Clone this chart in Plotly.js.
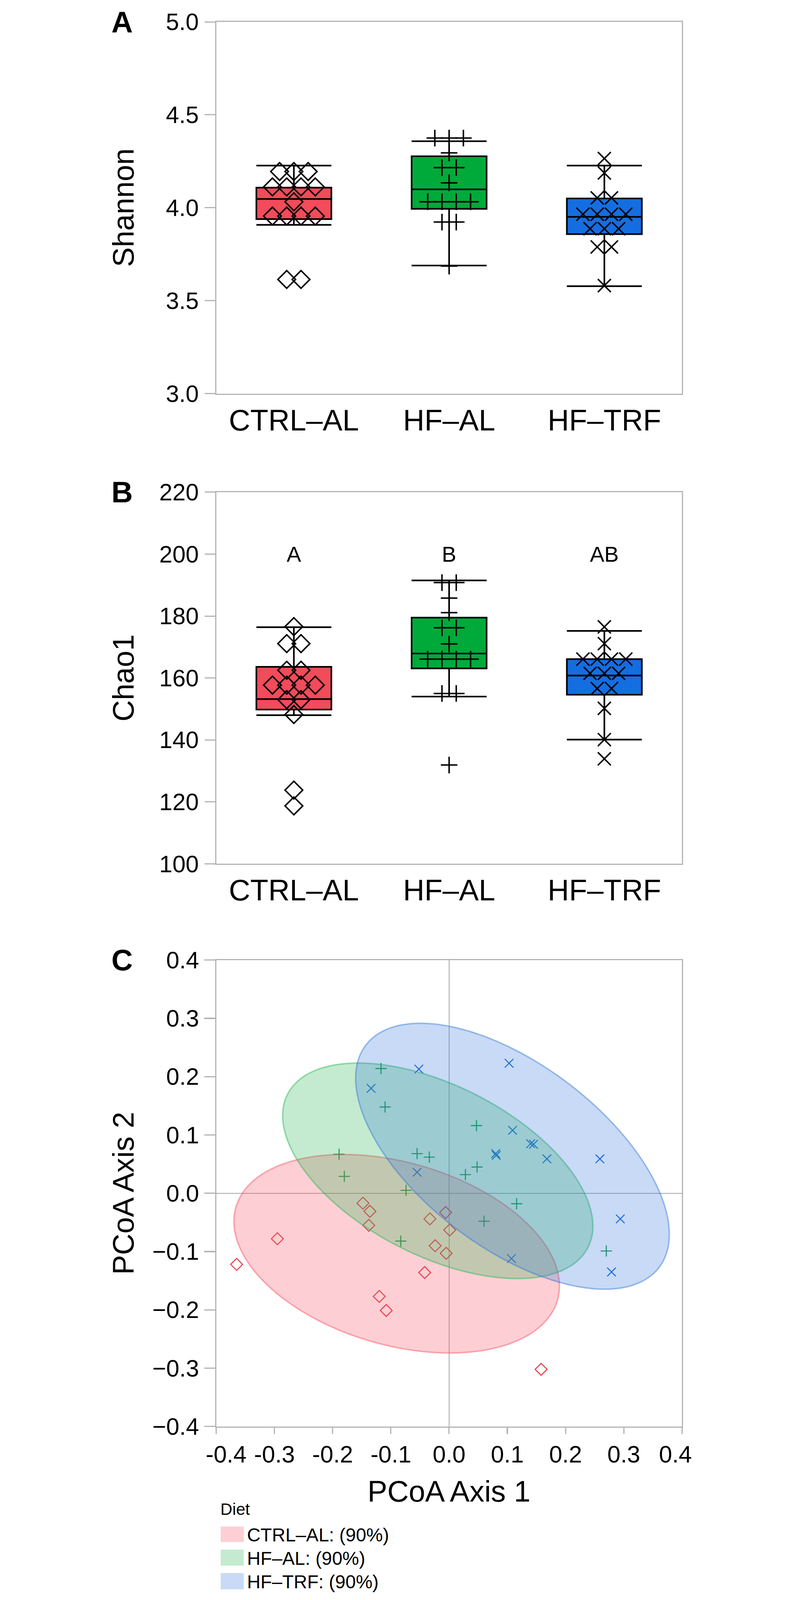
<!DOCTYPE html>
<html>
<head>
<meta charset="utf-8">
<script src="https://cdn.plot.ly/plotly-3.0.1.min.js"></script>
<style>
  html, body { margin: 0; padding: 0; background: #ffffff; overflow: hidden; }
  #chart { width: 2093px; height: 5403px; }
</style>
</head>
<body>
<div id="chart"></div>
<script>
// ---------------- DATA ----------------
const diets = ['CTRL\u2013AL', 'HF\u2013AL', 'HF\u2013TRF'];

// Panel A: Shannon (individual mice)
const shannonCtrl  = [4.195, 4.195, 4.195, 4.112, 4.112, 4.112, 4.112, 4.032, 3.955, 3.955, 3.955, 3.955, 3.614, 3.614];
const shannonHfAl  = [4.375, 4.375, 4.375, 4.295, 4.216, 4.216, 4.134, 4.032, 4.032, 4.032, 4.032, 3.923, 3.923, 3.686];
const shannonHfTrf = [4.265, 4.187, 4.053, 4.053, 3.965, 3.965, 3.965, 3.965, 3.887, 3.887, 3.887, 3.789, 3.789, 3.581];
// Shannon box statistics (CTRL-AL, HF-AL, HF-TRF)
const shannonQ1     = [3.939, 3.994, 3.858];
const shannonMedian = [4.047, 4.099, 3.951];
const shannonQ3     = [4.108, 4.277, 4.050];
const shannonLow    = [3.908, 3.689, 3.578];
const shannonHigh   = [4.227, 4.358, 4.227];
const shannonTicks  = [3.0, 3.5, 4.0, 4.5, 5.0];

// Panel B: Chao1
const chaoCtrl  = [176.6, 171.1, 171.1, 162.5, 162.5, 157.7, 157.7, 157.7, 157.7, 153.0, 153.0, 148.2, 123.8, 118.7];
const chaoHfAl  = [190.8, 190.8, 185.8, 181.1, 176.2, 176.2, 171.0, 166.1, 166.1, 166.1, 166.1, 155.0, 155.0, 131.9];
const chaoHfTrf = [176.5, 171.1, 166.1, 166.1, 166.1, 166.1, 161.5, 161.5, 161.5, 156.6, 156.6, 150.2, 140.1, 133.9];
const chaoQ1     = [149.8, 163.1, 154.6];
const chaoMedian = [153.2, 167.9, 160.8];
const chaoQ3     = [163.6, 179.5, 166.1];
const chaoLow    = [148.0, 154.0, 140.1];
const chaoHigh   = [176.4, 191.5, 175.2];
const chaoTicks  = [100, 120, 140, 160, 180, 200, 220];
const chaoLetters = ['A', 'B', 'AB'];
const chaoLetterLevel = 200;

// Panel C: PCoA
const ctrlPc1  = [-0.365, -0.295, -0.148, -0.136, -0.138, -0.033, -0.006, 0.001, -0.024, -0.005, -0.042, -0.120, -0.108, 0.158];
const ctrlPc2  = [-0.122, -0.078, -0.017, -0.031, -0.055, -0.044, -0.033, -0.063, -0.090, -0.103, -0.136, -0.177, -0.201, -0.302];
const hfAlPc1  = [-0.117, -0.110, -0.189, -0.180, -0.074, -0.055, -0.034, 0.047, 0.048, 0.028, 0.116, 0.060, -0.083, 0.270];
const hfAlPc2  = [0.214, 0.148, 0.067, 0.029, 0.005, 0.068, 0.062, 0.116, 0.045, 0.032, -0.018, -0.048, -0.082, -0.099];
const hfTrfPc1 = [-0.134, -0.052, 0.103, 0.109, 0.140, 0.145, 0.080, 0.081, 0.168, 0.259, -0.055, 0.294, 0.107, 0.279];
const hfTrfPc2 = [0.180, 0.213, 0.223, 0.108, 0.085, 0.084, 0.068, 0.065, 0.059, 0.059, 0.036, -0.044, -0.112, -0.135];
const pcoaTicks = [-0.4, -0.3, -0.2, -0.1, 0.0, 0.1, 0.2, 0.3, 0.4];
const pcoaXTickText = ['-0.4', '-0.3', '-0.2', '-0.1', '0.0', '0.1', '0.2', '0.3', '0.4'];
const ellipseLevel = 0.90;
const legendTitle = 'Diet';

// ---------------- STYLE ----------------
const FONT = 'Liberation Sans, Arial, Helvetica, sans-serif';
const W = 2033, H = 5403;      // frame of the original figure
const WP = 2093;               // drawing canvas (a little spare room on the right)
const px = v => v / WP;
const py = v => 1 - v / H;
const AX = '#b4b4b4';
const boxFill = ['#F24B5A', '#00AA3A', '#146EE1'];
const boxSymbols = ['diamond-open', 'cross-thin-open', 'x-thin-open'];
const boxSymSize = [46, 40, 44];
const pcoaColors = ['#E8404F', '#0A9A4A', '#1A6CD8'];
const pcoaSymSize = [31, 27, 29];
const ellRGB = ['248,77,96', '36,181,81', '51,118,218'];
const ellAlpha = 0.27;
const NB = '\u00a0';
// end labels of the PCoA x axis sit inside the frame, as in the original
const pcoaXLabels = pcoaXTickText.map((t, i) =>
  i === 0 ? NB + NB + NB + t : (i === pcoaXTickText.length - 1 ? t + NB + NB : t));

// horizontal dodge of tied values (side by side, centred on the category)
function dodge(values, center, step) {
  const counts = {}, seen = {};
  values.forEach(v => { counts[v] = (counts[v] || 0) + 1; });
  return values.map(v => {
    const n = counts[v];
    seen[v] = (seen[v] === undefined) ? 0 : seen[v] + 1;
    return center + (seen[v] - (n - 1) / 2) * step;
  });
}

// density ellipse: mean + sqrt(chi2_2(p)) * chol(cov) * unit circle
function ellipse(xs, ys, p) {
  const n = xs.length;
  const mx = xs.reduce((a, b) => a + b, 0) / n;
  const my = ys.reduce((a, b) => a + b, 0) / n;
  let sxx = 0, syy = 0, sxy = 0;
  for (let i = 0; i < n; i++) {
    sxx += (xs[i] - mx) ** 2; syy += (ys[i] - my) ** 2; sxy += (xs[i] - mx) * (ys[i] - my);
  }
  sxx /= (n - 1); syy /= (n - 1); sxy /= (n - 1);
  const k = Math.sqrt(-2 * Math.log(1 - p));
  const a = Math.sqrt(sxx), b = sxy / a, c = Math.sqrt(syy - b * b);
  const ex = [], ey = [];
  for (let i = 0; i <= 240; i++) {
    const t = 2 * Math.PI * i / 240;
    ex.push(mx + k * a * Math.cos(t));
    ey.push(my + k * (b * Math.cos(t) + c * Math.sin(t)));
  }
  return { x: ex, y: ey };
}

const traces = [];

function addBoxPanel(xa, ya, groups, q1, med, q3, lo, hi) {
  for (let g = 0; g < 3; g++) {
    traces.push({
      type: 'box', x: [g], q1: [q1[g]], median: [med[g]], q3: [q3[g]],
      lowerfence: [lo[g]], upperfence: [hi[g]],
      width: 0.483, whiskerwidth: 1, boxpoints: false,
      fillcolor: boxFill[g], line: { color: '#000000', width: 5.5 },
      xaxis: xa, yaxis: ya, showlegend: false, hoverinfo: 'skip'
    });
  }
  for (let g = 0; g < 3; g++) {
    traces.push({
      type: 'scatter', mode: 'markers',
      x: dodge(groups[g], g, 0.092), y: groups[g],
      marker: { symbol: boxSymbols[g], size: boxSymSize[g], color: '#000000',
                line: { color: '#000000', width: 5 } },
      xaxis: xa, yaxis: ya, showlegend: false, cliponaxis: false
    });
  }
}

addBoxPanel('x', 'y', [shannonCtrl, shannonHfAl, shannonHfTrf],
            shannonQ1, shannonMedian, shannonQ3, shannonLow, shannonHigh);
addBoxPanel('x2', 'y2', [chaoCtrl, chaoHfAl, chaoHfTrf],
            chaoQ1, chaoMedian, chaoQ3, chaoLow, chaoHigh);

const pcX = [ctrlPc1, hfAlPc1, hfTrfPc1];
const pcY = [ctrlPc2, hfAlPc2, hfTrfPc2];
for (let g = 0; g < 3; g++) {
  traces.push({
    type: 'scatter', mode: 'markers', x: pcX[g], y: pcY[g], name: diets[g],
    marker: { symbol: boxSymbols[g], size: pcoaSymSize[g], color: pcoaColors[g],
              line: { color: pcoaColors[g], width: 3.5 } },
    xaxis: 'x3', yaxis: 'y3', showlegend: false
  });
}
for (let g = 0; g < 3; g++) {
  const e = ellipse(pcX[g], pcY[g], ellipseLevel);
  traces.push({
    type: 'scatter', mode: 'lines', x: e.x, y: e.y, fill: 'toself',
    fillcolor: 'rgba(' + ellRGB[g] + ',' + ellAlpha + ')',
    line: { color: 'rgba(' + ellRGB[g] + ',0.45)', width: 5, shape: 'spline' },
    xaxis: 'x3', yaxis: 'y3', showlegend: false, hoverinfo: 'skip'
  });
}

const baseAxis = {
  showline: true, mirror: true, linecolor: AX, linewidth: 4,
  showgrid: false, zeroline: false, tickcolor: AX, tickwidth: 4,
  tickfont: { family: FONT, size: 80, color: '#000000' }, fixedrange: true
};
const xDom = [px(406), px(1979)];

const layout = {
  width: WP, height: H, margin: { l: 0, r: 0, t: 0, b: 0 },
  paper_bgcolor: '#ffffff', plot_bgcolor: '#ffffff',
  font: { family: FONT, color: '#000000' },
  showlegend: false,
  xaxis: Object.assign({}, baseAxis, { domain: xDom, anchor: 'y', range: [-0.5, 2.5],
    tickmode: 'array', tickvals: [0, 1, 2], ticktext: diets, ticks: '',
    tickfont: { family: FONT, size: 100, color: '#000000' } }),
  yaxis: Object.assign({}, baseAxis, { domain: [py(1329), py(74)], anchor: 'x', range: [3, 5],
    tickmode: 'array', tickvals: shannonTicks, tickformat: '.1f', ticks: 'outside', ticklen: 35,
    ticklabelstandoff: 4 }),
  xaxis2: Object.assign({}, baseAxis, { domain: xDom, anchor: 'y2', range: [-0.5, 2.5],
    tickmode: 'array', tickvals: [0, 1, 2], ticktext: diets, ticks: '',
    tickfont: { family: FONT, size: 100, color: '#000000' } }),
  yaxis2: Object.assign({}, baseAxis, { domain: [py(2917), py(1662)], anchor: 'x2', range: [100, 220],
    tickmode: 'array', tickvals: chaoTicks, ticks: 'outside', ticklen: 35, ticklabelstandoff: 4 }),
  xaxis3: Object.assign({}, baseAxis, { domain: xDom, anchor: 'y3', range: [-0.4, 0.4],
    tickmode: 'array', tickvals: pcoaTicks, ticktext: pcoaXLabels, ticks: 'outside', ticklen: 22,
    ticklabeloverflow: 'allow',
    zeroline: true, zerolinecolor: '#a6a6a6', zerolinewidth: 2 }),
  yaxis3: Object.assign({}, baseAxis, { domain: [py(4817), py(3242)], anchor: 'x3', range: [-0.4, 0.4],
    tickmode: 'array', tickvals: pcoaTicks, tickformat: '.1f', ticks: 'outside', ticklen: 36,
    ticklabelstandoff: 2, zeroline: true, zerolinecolor: '#a6a6a6', zerolinewidth: 2 }),
  annotations: [],
  shapes: []
};

const ann = layout.annotations;
// panel letters
[['A', 74], ['B', 1662], ['C', 3242]].forEach(([t, y]) => ann.push({
  text: '<b>' + t + '</b>', xref: 'paper', yref: 'paper', x: px(50), y: py(y),
  xanchor: 'left', yanchor: 'middle', showarrow: false, font: { family: FONT, size: 100, color: '#000' }
}));
// y-axis titles
[['Shannon', (74 + 1329) / 2], ['Chao1', (1662 + 2917) / 2], ['PCoA Axis 2', (3242 + 4817) / 2]].forEach(([t, y]) => ann.push({
  text: t, xref: 'paper', yref: 'paper', x: px(91), y: py(y), textangle: -90,
  xanchor: 'center', yanchor: 'middle', showarrow: false, font: { family: FONT, size: 100, color: '#000' }
}));
// x-axis title of C
ann.push({ text: 'PCoA Axis 1', xref: 'paper', yref: 'paper', x: px(1192), y: py(5036),
  xanchor: 'center', yanchor: 'middle', showarrow: false, font: { family: FONT, size: 100, color: '#000' } });
// significance letters
chaoLetters.forEach((t, i) => ann.push({ text: t, xref: 'x2', yref: 'y2', x: i, y: chaoLetterLevel,
  xanchor: 'center', yanchor: 'middle', showarrow: false, font: { family: FONT, size: 73, color: '#000' } }));
// legend
ann.push({ text: legendTitle, xref: 'paper', yref: 'paper', x: px(418), y: py(5095),
  xanchor: 'left', yanchor: 'middle', showarrow: false, font: { family: FONT, size: 56, color: '#000' } });
const legRows = [[5155, 5207], [5233, 5287], [5312, 5367]];
diets.forEach((d, i) => {
  layout.shapes.push({ type: 'rect', xref: 'paper', yref: 'paper', x0: px(421), x1: px(499),
    y0: py(legRows[i][1]), y1: py(legRows[i][0]), line: { width: 0 },
    fillcolor: 'rgba(' + ellRGB[i] + ',' + ellAlpha + ')' });
  ann.push({ text: d + ': (90%)', xref: 'paper', yref: 'paper', x: px(508),
    y: py((legRows[i][0] + legRows[i][1]) / 2 + 2), xanchor: 'left', yanchor: 'middle', showarrow: false,
    font: { family: FONT, size: 63, color: '#000' } });
});

const gd = document.getElementById('chart');
Plotly.newPlot(gd, traces, layout, { staticPlot: true, displayModeBar: false }).then(() => {
  // the photographed window is shorter than the figure: scale the whole figure to fit it,
  // keeping the original 2033-px frame centred
  const s = Math.min(1, window.innerWidth / W, window.innerHeight / H);
  if (s < 1) {
    gd.style.transformOrigin = '0 0';
    gd.style.transform = 'translate(' + ((window.innerWidth - W * s) / 2) + 'px,0px) scale(' + s + ')';
  }
});
</script>
</body>
</html>
